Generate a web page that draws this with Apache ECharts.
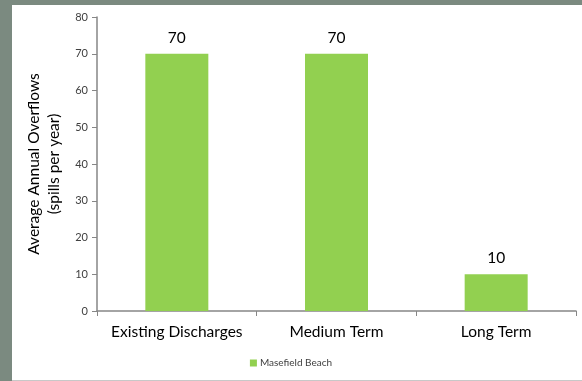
<!DOCTYPE html>
<html>
<head>
<meta charset="utf-8">
<script src="https://cdn.jsdelivr.net/npm/echarts@6/dist/echarts.min.js"></script>
<style>
  html, body { margin: 0; padding: 0; width: 582px; height: 381px; background: #7b8a80; overflow: hidden; }
  #panel { position: absolute; left: 12px; top: 5px; width: 570px; height: 375px; background: #fff; border-bottom: 1px solid #c8c8c8; }
  #main { position: absolute; left: 0; top: 0; width: 582px; height: 381px; }
</style>
</head>
<body>
<div id="panel"></div>
<div id="main"></div>
<script>
var categories = ['Existing Discharges', 'Medium Term', 'Long Term'];
var overflows = [70, 70, 10];
var seriesName = 'Masefield Beach';
var yTicks = { min: 0, max: 80, step: 10 };

var font = 'Lato, "Open Sans", sans-serif';
var myChart = echarts.init(document.getElementById('main'));

var option = {
    backgroundColor: 'transparent',
    animation: false,
    textStyle: { fontFamily: font },
    grid: { left: 97, right: 6, top: 17, bottom: 70, containLabel: false },
    legend: {
        data: [seriesName],
        bottom: 8,
        left: 'center',
        icon: 'rect',
        itemWidth: 7,
        itemHeight: 7,
        itemGap: 4,
        textStyle: { fontSize: 10, color: '#404040', fontFamily: font, padding: [0, 0, 0, -2] }
    },
    xAxis: {
        type: 'category',
        data: categories,
        axisLine: { show: true, lineStyle: { color: '#868686', width: 1.5 } },
        axisTick: { show: true, length: 5, alignWithLabel: false, lineStyle: { color: '#868686' } },
        axisLabel: { interval: 0, fontSize: 15.5, color: '#000', margin: 13, fontFamily: font },
        splitLine: { show: false }
    },
    yAxis: {
        type: 'value',
        min: yTicks.min,
        max: yTicks.max,
        interval: yTicks.step,
        name: 'Average Annual Overflows\n(spills per year)',
        nameLocation: 'middle',
        nameRotate: 90,
        nameGap: 31,
        nameTextStyle: { fontSize: 15.5, color: '#000', lineHeight: 20, fontFamily: font },
        axisLine: { show: true, lineStyle: { color: '#868686', width: 1.5 } },
        axisTick: { show: true, length: 5, lineStyle: { color: '#868686' } },
        axisLabel: { fontSize: 11, color: '#404040', margin: 9, fontFamily: font },
        splitLine: { show: false }
    },
    series: [{
        name: seriesName,
        type: 'bar',
        data: overflows,
        barWidth: 63,
        itemStyle: { color: '#92d050' },
        label: { show: true, position: 'top', distance: 8, fontSize: 15.5, color: '#000', fontFamily: font }
    }]
};

myChart.setOption(option);
</script>
</body>
</html>
